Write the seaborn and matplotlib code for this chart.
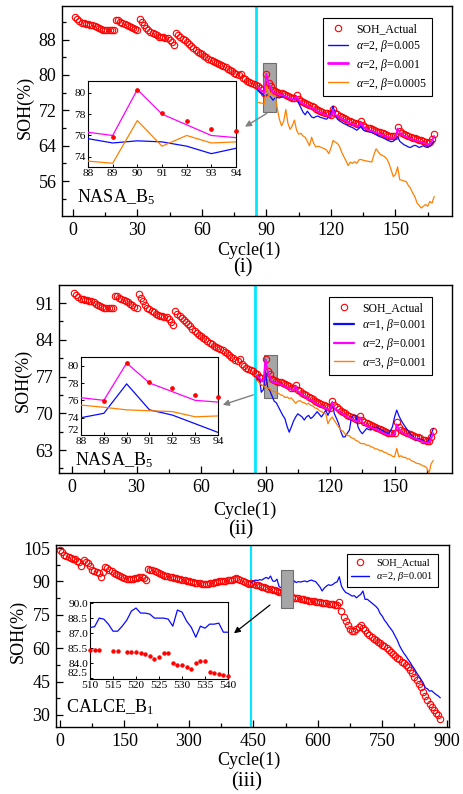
import matplotlib
matplotlib.use("Agg")
import matplotlib.pyplot as plt
import seaborn as sns
import pandas as pd
from matplotlib.patches import Rectangle
from matplotlib.lines import Line2D
from matplotlib.ticker import MultipleLocator, FormatStrFormatter, FixedLocator

# ---------------- data ----------------
nasa_cycle = list(range(1, 169))
nasa_soh = [
    93.0, 92.6, 92.1, 91.8, 91.8, 91.6, 91.5, 91.3, 91.3, 91.1,
    90.9, 90.7, 90.5, 90.2, 90.1, 90.1, 90.1, 90.1, 90.1, 92.4,
    92.4, 92.0, 91.7, 91.5, 91.3, 91.1, 90.9, 90.6, 90.3, 90.1,
    92.7, 91.9, 91.3, 90.6, 90.1, 89.8, 89.5, 89.2, 89.0, 88.7,
    88.6, 88.5, 88.4, 88.3, 88.0, 87.4, 86.8, 89.5, 89.0, 88.6,
    88.2, 87.8, 87.4, 87.0, 86.6, 86.1, 85.7, 85.3, 85.0, 84.7,
    84.4, 84.1, 83.7, 83.4, 83.1, 82.9, 82.6, 82.4, 82.2, 82.0,
    81.7, 81.4, 81.1, 80.8, 80.5, 80.2, 79.9, 80.3, 79.3, 79.0,
    78.7, 78.4, 78.2, 78.0, 77.7, 77.4, 77.0, 76.7, 75.9, 80.3,
    78.1, 77.4, 76.6, 76.4, 76.2, 76.0, 75.9, 75.7, 75.5, 75.3,
    75.1, 74.9, 74.8, 75.4, 74.5, 74.2, 73.9, 73.6, 73.4, 73.1,
    72.9, 72.7, 72.4, 72.1, 71.9, 71.7, 71.5, 71.3, 71.1, 71.0,
    72.3, 71.5, 71.1, 70.8, 70.5, 70.2, 70.0, 69.7, 69.5, 69.3,
    69.1, 68.9, 68.8, 69.5, 68.7, 68.3, 68.1, 67.9, 67.7, 67.5,
    67.4, 67.2, 67.0, 66.8, 66.6, 66.4, 66.3, 66.2, 66.2, 66.3,
    68.3, 67.3, 66.9, 66.6, 66.4, 66.2, 66.0, 65.8, 65.7, 65.5,
    65.4, 65.2, 65.0, 64.9, 64.7, 64.8, 65.5, 66.6,
]

pred_cycle = list(range(86, 169))
# alpha=2, beta=0.005 (blue, panel i)
pred_a2_b005 = [
    76.5, 76.0, 75.7, 75.3, 75.5, 75.4, 75.0, 74.3, 74.8, 74.9,
    74.8, 75.0, 75.2, 75.1, 74.9, 74.7, 74.5, 74.6, 75.0, 73.6,
    72.6, 71.6, 71.0, 71.8, 71.2, 70.5, 70.3, 70.6, 70.7, 70.4,
    70.3, 70.1, 70.0, 70.5, 71.5, 73.0, 71.0, 70.0, 69.6, 69.3,
    69.0, 68.8, 68.5, 68.3, 68.1, 67.8, 67.5, 67.9, 68.5, 67.6,
    67.3, 67.2, 67.1, 67.0, 66.8, 66.6, 66.2, 66.0, 65.8, 65.6,
    65.3, 65.1, 64.9, 65.0, 65.5, 66.1, 65.0, 64.6, 64.2, 64.0,
    63.7, 63.6, 63.9, 64.1, 63.9, 63.6, 63.8, 64.0, 63.7, 63.6,
    63.9, 64.4, 65.0,
]
# alpha=2, beta=0.001 (magenta, both panels)
pred_a2_b001 = [
    77.2, 76.8, 76.3, 76.0, 80.3, 78.0, 77.0, 76.0, 75.8, 75.8,
    75.7, 75.5, 75.3, 75.1, 74.9, 74.7, 74.5, 74.4, 75.1, 74.2,
    73.8, 73.5, 73.2, 73.0, 72.7, 72.5, 72.3, 72.0, 71.7, 71.5,
    71.3, 71.1, 70.9, 70.7, 70.6, 72.0, 71.0, 70.7, 70.4, 70.1,
    69.8, 69.6, 69.3, 69.1, 68.9, 68.7, 68.5, 68.4, 69.2, 68.3,
    67.9, 67.7, 67.5, 67.3, 67.1, 67.0, 66.8, 66.6, 66.4, 66.2,
    66.0, 65.9, 65.8, 65.8, 65.9, 67.9, 66.9, 66.5, 66.2, 66.0,
    65.8, 65.6, 65.4, 65.3, 65.1, 65.0, 64.8, 64.6, 64.5, 64.3,
    64.4, 65.1, 66.2,
]
# alpha=2, beta=0.0005 (orange, panel i)
pred_a2_b0005 = [
    73.8, 73.7, 73.6, 73.4, 77.4, 75.0, 76.0, 75.3, 75.4, 72.5,
    70.0, 68.5, 69.5, 72.2, 69.0, 67.7, 68.5, 69.8, 67.5, 66.6,
    66.8, 66.2, 65.9, 65.0, 64.0, 65.9, 64.5, 63.7, 63.9, 63.7,
    63.5, 63.3, 63.0, 62.2, 63.5, 65.2, 64.8, 64.5, 63.8, 62.5,
    61.5, 60.6, 59.5, 60.3, 60.0, 60.4, 60.0, 60.8, 60.9, 60.7,
    60.6, 60.5, 60.4, 60.3, 62.0, 63.3, 62.6, 62.0, 61.8, 61.5,
    61.0, 60.0, 58.5, 57.0, 57.5, 59.2, 56.3, 56.2, 56.0, 55.9,
    55.0, 54.4, 53.3, 52.5, 51.1, 50.5, 49.9, 50.3, 50.7, 50.3,
    51.4, 51.0, 52.5,
]
# alpha=1, beta=0.001 (blue, panel ii)
pred_a1_b001 = [
    76.3, 77.2, 74.0, 74.5, 77.9, 74.9, 74.3, 73.3, 72.3, 72.0,
    71.2, 70.4, 69.6, 69.0, 67.5, 66.4, 67.4, 68.5, 69.3, 69.9,
    69.6, 69.3, 68.7, 69.3, 69.6, 69.0, 69.3, 69.8, 70.3, 69.8,
    69.3, 69.9, 70.6, 69.6, 70.5, 72.2, 69.9, 69.0, 68.0, 66.5,
    65.5, 65.5, 66.2, 66.8, 69.3, 69.6, 69.6, 67.4, 66.6, 66.1,
    66.6, 67.1, 66.9, 66.8, 67.4, 67.2, 67.4, 67.0, 66.8, 66.6,
    66.3, 66.1, 66.6, 67.4, 69.3, 70.6, 69.5, 68.7, 68.0, 67.4,
    66.8, 66.3, 65.8, 65.4, 64.9, 65.2, 65.0, 64.9, 64.5, 64.6,
    64.9, 66.0, 67.1,
]
# alpha=3, beta=0.001 (orange, panel ii)
pred_a3_b001 = [
    76.2, 75.8, 75.45, 75.2, 74.9, 74.8, 74.7, 74.1, 74.2, 74.0,
    73.8, 73.5, 73.4, 73.0, 73.1, 72.8, 72.9, 72.4, 71.9, 72.3,
    72.4, 72.1, 72.0, 71.7, 71.9, 71.5, 71.4, 71.0, 70.9, 70.5,
    70.3, 70.1, 69.9, 68.0, 68.8, 69.3, 68.6, 68.0, 67.4, 66.8,
    66.6, 66.0, 65.8, 65.7, 65.3, 65.2, 64.8, 64.7, 64.3, 64.2,
    64.2, 63.9, 63.9, 63.6, 63.5, 63.2, 63.2, 62.9, 62.9, 62.6,
    62.5, 62.2, 62.1, 61.8, 61.7, 63.3, 61.7, 61.9, 61.6, 61.6,
    61.3, 61.3, 60.9, 60.8, 60.5, 60.4, 60.3, 60.0, 59.9, 59.6,
    58.5, 60.4, 61.0,
]

calce_cycle = list(range(0, 886, 5))
calce_soh = [
    104.1, 103.4, 101.9, 101.2, 100.8, 100.5, 100.2, 99.9, 99.3, 98.7,
    96.8, 99.6, 98.8, 98.1, 97.0, 95.1, 94.5, 94.0, 93.6, 92.1,
    94.0, 96.6, 96.0, 95.1, 94.5, 93.8, 93.2, 92.9, 92.4, 91.8,
    91.4, 91.2, 91.0, 91.0, 91.2, 91.4, 91.7, 91.9, 92.1, 91.6,
    90.6, 95.4, 95.3, 95.0, 94.8, 94.2, 93.6, 93.1, 92.7, 92.4,
    92.3, 92.1, 91.8, 91.6, 91.4, 91.2, 91.0, 90.8, 90.6, 90.4,
    90.2, 89.9, 89.6, 89.5, 89.3, 89.1, 89.0, 88.8, 88.9, 88.8,
    89.1, 89.4, 89.6, 89.9, 90.0, 90.2, 90.2, 90.4, 90.6, 90.6,
    90.8, 91.1, 91.4, 91.0, 90.6, 90.2, 89.9, 89.5, 88.7, 89.3,
    89.0, 88.6, 88.4, 88.0, 87.6, 87.3, 86.9, 86.6, 86.4, 86.2,
    86.0, 85.7, 85.3, 85.3, 85.1, 84.6, 83.8, 84.3, 82.8, 82.6,
    82.5, 82.4, 82.2, 82.0, 81.8, 81.6, 81.4, 81.2, 81.0, 80.9,
    80.9, 80.7, 80.5, 80.4, 80.2, 80.0, 79.9, 79.7, 79.5, 79.4,
    80.9, 76.5, 74.1, 72.3, 70.5, 68.6, 67.5, 67.8, 68.6, 69.5,
    70.3, 69.0, 68.1, 67.0, 66.0, 65.1, 64.3, 63.6, 62.8, 62.3,
    61.6, 61.0, 60.3, 59.3, 58.3, 57.5, 56.6, 55.8, 55.0, 53.8,
    53.2, 52.5, 51.6, 50.3, 48.8, 47.1, 45.5, 44.0, 42.5, 40.5,
    38.4, 36.6, 35.0, 33.6, 32.1, 30.8, 29.8, 28.4,
]
calce_pred_cycle = list(range(445, 886, 5))
calce_pred = [
    89.4, 90.2, 90.6, 90.4, 90.8, 90.6, 91.3, 91.8, 91.2, 92.4,
    90.2, 90.0, 91.0, 87.6, 87.2, 89.5, 88.5, 89.1, 87.5, 87.1,
    90.2, 89.5, 89.9, 89.7, 90.0, 90.2, 89.8, 90.3, 90.6, 90.2,
    89.9, 88.7, 87.5, 85.7, 87.0, 87.9, 88.5, 88.2, 88.6, 89.4,
    89.8, 92.1, 87.9, 86.2, 85.0, 84.6, 84.0, 83.4, 83.6, 82.6,
    83.5, 84.2, 85.7, 81.9, 82.0, 81.2, 80.4, 79.6, 78.8, 77.7,
    75.6, 74.4, 72.6, 71.4, 69.9, 68.7, 67.3, 65.4, 63.6, 61.2,
    59.4, 57.8, 56.5, 55.0, 53.6, 52.0, 50.6, 48.9, 47.5, 46.0,
    44.5, 42.2, 41.8, 40.7, 40.9, 40.0, 39.2, 38.6, 37.7,
]
calce_zoom_cycle = list(range(510, 541))
calce_zoom_pred = [
    87.56, 87.65, 88.5, 88.4, 87.9, 87.2, 87.2, 87.7, 88.3, 89.2,
    89.5, 89.0, 89.0, 88.9, 88.5, 88.5, 88.5, 88.4, 87.7, 89.3,
    89.1, 88.2, 87.6, 86.6, 87.7, 87.5, 87.9, 87.9, 88.0, 87.1, 87.1,
]
calce_zoom_act_cycle = [510, 511, 512, 515, 516] + list(range(518, 541))
calce_zoom_act = [
    85.34, 85.34, 85.34, 85.28, 85.28, 85.18, 85.18, 85.1, 85.0, 84.95,
    84.7, 84.4, 84.6, 85.05, 85.05, 84.07, 83.8, 83.8, 83.6, 83.4,
    84.0, 84.2, 84.27, 83.16, 83.0, 82.96, 82.83, 82.77,
]

assert len(nasa_soh) == len(nasa_cycle)
for s in (pred_a2_b005, pred_a2_b001, pred_a2_b0005, pred_a1_b001, pred_a3_b001):
    assert len(s) == len(pred_cycle), len(s)
assert len(calce_soh) == len(calce_cycle)
assert len(calce_pred) == len(calce_pred_cycle)
assert len(calce_zoom_pred) == len(calce_zoom_cycle)
assert len(calce_zoom_act) == len(calce_zoom_act_cycle)

nasa = pd.DataFrame({"cycle": nasa_cycle, "soh": nasa_soh})
pred = pd.DataFrame({"cycle": pred_cycle, "b005": pred_a2_b005, "b001": pred_a2_b001,
                     "b0005": pred_a2_b0005, "a1": pred_a1_b001, "a3": pred_a3_b001})

# ---------------- style ----------------
sns.set_theme(style="ticks", rc={"axes.edgecolor": "black", "text.color": "black",
                                  "axes.labelcolor": "black", "xtick.color": "black",
                                  "ytick.color": "black"})
plt.rcParams["font.family"] = ["Liberation Serif", "DejaVu Serif"]
plt.rcParams["mathtext.fontset"] = "custom"
plt.rcParams["mathtext.rm"] = "Liberation Serif"
plt.rcParams["mathtext.it"] = "Liberation Serif:italic"
plt.rcParams["mathtext.bf"] = "Liberation Serif:bold"

RED = "#ff0000"
BLUE = "#0a0aff"
MAG = "#ff00ff"
ORA = "#ff8000"
CYAN = "#00e8ff"

W, H = 463, 794
fig = plt.figure(figsize=(W / 100, H / 100), dpi=100)


def px(x0, top, x1, bottom):
    return [x0 / W, 1 - bottom / H, (x1 - x0) / W, (bottom - top) / H]


def style_main(ax, xlim, ylim, xmaj, ymaj):
    ax.set_xlim(*xlim)
    ax.set_ylim(*ylim)
    ax.xaxis.set_major_locator(MultipleLocator(xmaj))
    ax.xaxis.set_minor_locator(MultipleLocator(xmaj / 2))
    ax.yaxis.set_major_locator(MultipleLocator(ymaj))
    ax.yaxis.set_minor_locator(MultipleLocator(ymaj / 2))
    ax.tick_params(which="both", direction="in", top=False, right=False,
                   width=0.9, labelsize=13, pad=4)
    ax.tick_params(which="major", length=5)
    ax.tick_params(which="minor", length=3)
    for s in ax.spines.values():
        s.set_visible(True)
        s.set_linewidth(1.0)
        s.set_color("black")


def style_inset(ax, xlim, ylim, xticks, yticks, yfmt=None, lift_bottom=False):
    ax.set_facecolor("white")
    ax.set_xlim(*xlim)
    ax.set_ylim(*ylim)
    ax.xaxis.set_major_locator(FixedLocator(xticks))
    ax.yaxis.set_major_locator(FixedLocator(yticks))
    if yfmt:
        ax.yaxis.set_major_formatter(FormatStrFormatter(yfmt))
    ax.tick_params(which="both", direction="in", top=False, right=False,
                   width=0.7, length=2.5, labelsize=8.2, pad=1.5)
    for s in ax.spines.values():
        s.set_visible(True)
        s.set_linewidth(0.8)
        s.set_color("black")
    if lift_bottom:
        ax.get_yticklabels()[0].set_va("bottom")


def actual_markers(ax, x, y, ms=4.6):
    sns.lineplot(x=x, y=y, ax=ax, marker="o", linestyle="none", markersize=ms,
                 markerfacecolor="none", markeredgecolor=RED, markeredgewidth=0.8,
                 color=RED, estimator=None, sort=False, zorder=3)


def line(ax, x, y, color, lw=0.9):
    sns.lineplot(x=x, y=y, ax=ax, color=color, linewidth=lw,
                 estimator=None, sort=False, zorder=4)


def legend(ax, entries, anchor, fs):
    handles = [Line2D([], [], marker="o", linestyle="none", markersize=4.6,
                      markerfacecolor="none", markeredgecolor=RED, markeredgewidth=0.8,
                      label="SOH_Actual")]
    for lab, col, lw in entries:
        handles.append(Line2D([], [], color=col, lw=lw, label=lab))
    lg = ax.legend(handles=handles, loc="upper right", bbox_to_anchor=anchor,
                   fontsize=fs, frameon=True, fancybox=False, framealpha=1,
                   edgecolor="black", borderpad=0.4, labelspacing=0.25,
                   handlelength=1.7, handletextpad=0.7, borderaxespad=0)
    lg.get_frame().set_linewidth(0.8)


def labels(ax, ylab_xy, xlab_xy, sub, sub_xy, tag, tag_xy):
    ax.set_ylabel("SOH(%)", fontsize=13, ha="center", va="center")
    ax.yaxis.set_label_coords(*ylab_xy)
    ax.set_xlabel("Cycle(1)", fontsize=13, ha="center", va="center")
    ax.xaxis.set_label_coords(*xlab_xy)
    ax.text(*sub_xy, sub, transform=ax.transAxes, ha="center", va="center", fontsize=15)
    ax.text(*tag_xy, tag, transform=ax.transAxes, ha="left", va="center", fontsize=13, zorder=6)


# ---------------- panel (i) ----------------
ax1 = fig.add_axes(px(62, 6, 452, 216))
style_main(ax1, (-5.12, 176.3), (48.1, 95.6), 30, 8)
ax1.axvline(85, color=CYAN, lw=2, zorder=2)
ax1.add_patch(Rectangle((88.5, 71.7), 5.8, 10.9, facecolor="#a6a6a6",
                        edgecolor="#6e6e6e", lw=0.8, zorder=1.5))
actual_markers(ax1, nasa["cycle"], nasa["soh"])
line(ax1, pred["cycle"], pred["b005"], BLUE)
line(ax1, pred["cycle"], pred["b001"], MAG, 1.3)
line(ax1, pred["cycle"], pred["b0005"], ORA)
legend(ax1, [(r"$\alpha$=2, $\beta$=0.005", BLUE, 1.0),
             (r"$\alpha$=2, $\beta$=0.001", MAG, 2.0),
             (r"$\alpha$=2, $\beta$=0.0005", ORA, 1.0)], (0.949, 0.943), 8.5)
ax1.annotate("", xy=(80.0, 68.3), xytext=(90.1, 71.3),
             arrowprops=dict(arrowstyle="-|>", color="#808080", lw=1.0,
                             mutation_scale=9, shrinkA=0, shrinkB=0), zorder=6)
labels(ax1, (-0.095, 0.519), (0.479, -0.162), "(i)", (0.464, -0.248),
       "NASA_B$_5$", (0.038, 0.09))

in1 = fig.add_axes(px(88, 81, 236, 167))
in1.set_zorder(10)
sub = pred[(pred["cycle"] >= 88) & (pred["cycle"] <= 94)]
line(in1, sub["cycle"], sub["b005"], BLUE)
line(in1, sub["cycle"], sub["b001"], MAG)
line(in1, sub["cycle"], sub["b0005"], ORA)
subn = nasa[(nasa["cycle"] >= 89) & (nasa["cycle"] <= 94)]
sns.lineplot(x=subn["cycle"], y=subn["soh"], ax=in1, marker="o", linestyle="none",
             markersize=2.6, color=RED, markeredgecolor=RED, estimator=None,
             sort=False, zorder=5, clip_on=False)
in1.set_xlabel("")
in1.set_ylabel("")
style_inset(in1, (88, 94), (73.05, 81.1), [88, 89, 90, 91, 92, 93, 94], [74, 76, 78, 80])

# ---------------- panel (ii) ----------------
ax2 = fig.add_axes(px(59, 285, 452, 473))
style_main(ax2, (-6.05, 176.7), (58.62, 94.43), 30, 7)
ax2.axvline(85, color=CYAN, lw=2, zorder=2)
ax2.add_patch(Rectangle((89.3, 73.0), 6.0, 8.1, facecolor="#a6a6a6",
                        edgecolor="#6e6e6e", lw=0.8, zorder=1.5))
actual_markers(ax2, nasa["cycle"], nasa["soh"])
line(ax2, pred["cycle"], pred["a1"], BLUE)
line(ax2, pred["cycle"], pred["b001"], MAG, 1.3)
line(ax2, pred["cycle"], pred["a3"], ORA)
legend(ax2, [(r"$\alpha$=1, $\beta$=0.001", BLUE, 1.6),
             (r"$\alpha$=2, $\beta$=0.001", MAG, 1.6),
             (r"$\alpha$=3, $\beta$=0.001", ORA, 1.0)], (0.949, 0.936), 8.5)
ax2.annotate("", xy=(70.1, 71.6), xytext=(84.3, 73.5),
             arrowprops=dict(arrowstyle="-|>", color="#808080", lw=1.0,
                             mutation_scale=9, shrinkA=0, shrinkB=0), zorder=6)
labels(ax2, (-0.091, 0.495), (0.473, -0.197), "(ii)", (0.463, -0.303),
       "NASA_B$_5$", (0.041, 0.068))

in2 = fig.add_axes(px(81, 357, 218, 435))
in2.set_zorder(10)
line(in2, sub["cycle"], sub["a1"], BLUE)
line(in2, sub["cycle"], sub["b001"], MAG)
line(in2, sub["cycle"], sub["a3"], ORA)
sns.lineplot(x=subn["cycle"], y=subn["soh"], ax=in2, marker="o", linestyle="none",
             markersize=2.6, color=RED, markeredgecolor=RED, estimator=None,
             sort=False, zorder=5, clip_on=False)
in2.set_xlabel("")
in2.set_ylabel("")
style_inset(in2, (88, 94), (72, 81), [88, 89, 90, 91, 92, 93, 94],
            [72, 74, 76, 78, 80], lift_bottom=True)

# ---------------- panel (iii) ----------------
ax3 = fig.add_axes(px(56, 545, 449, 727))
style_main(ax3, (-9.3, 905.3), (24.6, 106.35), 150, 15)
ax3.axvline(444, color=CYAN, lw=1.5, zorder=2)
ax3.add_patch(Rectangle((513.6, 77.9), 27.9, 17.2, facecolor="#a6a6a6",
                        edgecolor="#6e6e6e", lw=0.8, zorder=5))
actual_markers(ax3, calce_cycle, calce_soh)
line(ax3, calce_pred_cycle, calce_pred, BLUE)
legend(ax3, [(r"$\alpha$=2, $\beta$=0.001", BLUE, 1.0)], (0.972, 0.95), 7.5)
ax3.annotate("", xy=(404.9, 66.7), xytext=(488.7, 79.4),
             arrowprops=dict(arrowstyle="-|>", color="black", lw=0.9,
                             mutation_scale=9, shrinkA=0, shrinkB=0), zorder=6)
labels(ax3, (-0.096, 0.524), (0.491, -0.181), "(iii)", (0.485, -0.302),
       "CALCE_B$_1$", (0.025, 0.11))

in3 = fig.add_axes(px(90, 602, 228, 679))
in3.set_zorder(10)
line(in3, calce_zoom_cycle, calce_zoom_pred, BLUE)
sns.lineplot(x=calce_zoom_act_cycle, y=calce_zoom_act, ax=in3, marker="o",
             linestyle="none", markersize=2.4, color=RED, markeredgecolor=RED,
             estimator=None, sort=False, zorder=5, clip_on=False)
in3.set_xlabel("")
in3.set_ylabel("")
style_inset(in3, (510, 540), (82.45, 90.1), [510, 515, 520, 525, 530, 535, 540],
            [82.5, 84.0, 85.5, 87.0, 88.5, 90.0], "%.1f", lift_bottom=True)

fig.savefig("out.png", dpi=100)
